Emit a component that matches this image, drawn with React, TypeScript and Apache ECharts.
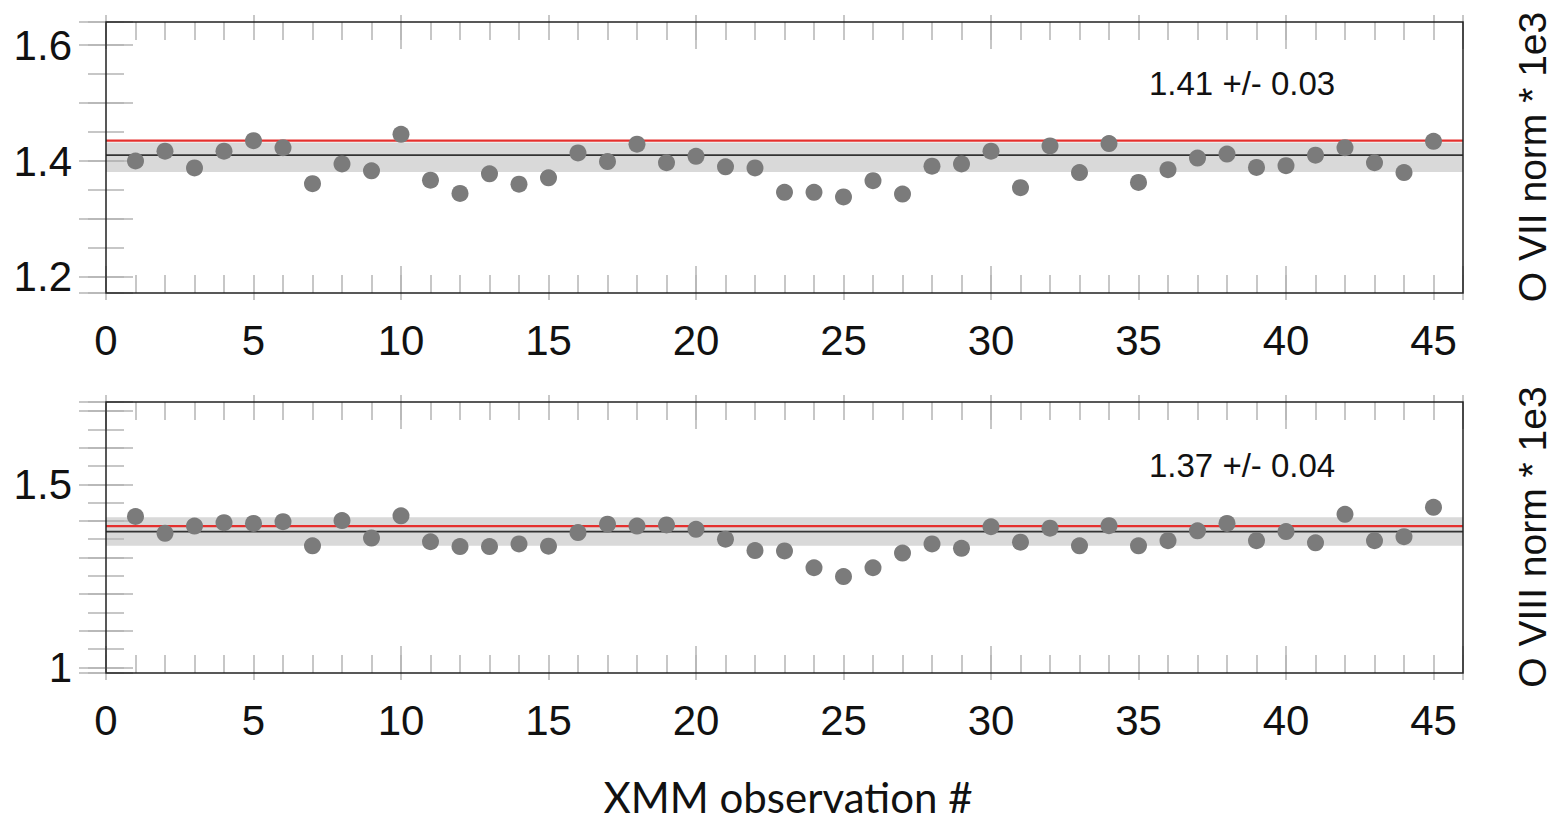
import React, { useEffect, useRef } from "react";
import * as echarts from "echarts";

// XMM observation numbers
const observations = [
  1, 2, 3, 4, 5, 6, 7, 8, 9, 10, 11, 12, 13, 14, 15, 16, 17, 18, 19, 20, 21, 22, 23,
  24, 25, 26, 27, 28, 29, 30, 31, 32, 33, 34, 35, 36, 37, 38, 39, 40, 41, 42, 43, 44, 45,
];

// O VII norm * 1e3
const oviiValues = [
  1.400, 1.417, 1.388, 1.417, 1.435, 1.423, 1.361, 1.395, 1.383, 1.446,
  1.367, 1.344, 1.378, 1.360, 1.371, 1.414, 1.399, 1.429, 1.397, 1.408,
  1.390, 1.388, 1.346, 1.346, 1.338, 1.366, 1.343, 1.391, 1.395, 1.417,
  1.354, 1.426, 1.380, 1.430, 1.363, 1.385, 1.405, 1.412, 1.389, 1.392,
  1.410, 1.423, 1.397, 1.380, 1.434,
];

// O VIII norm * 1e3
const oviiiValues = [
  1.412, 1.366, 1.386, 1.395, 1.393, 1.398, 1.332, 1.401, 1.353, 1.414,
  1.343, 1.330, 1.330, 1.337, 1.331, 1.368, 1.391, 1.386, 1.389, 1.377,
  1.350, 1.319, 1.318, 1.272, 1.248, 1.272, 1.312, 1.337, 1.325, 1.384,
  1.342, 1.380, 1.332, 1.387, 1.332, 1.346, 1.373, 1.393, 1.346, 1.371,
  1.340, 1.418, 1.346, 1.357, 1.437,
];

const oviiMean = 1.41;
const oviiBand = [1.381, 1.432];
const oviiRef = 1.435;
const oviiText = "1.41 +/- 0.03";

const oviiiMean = 1.3705;
const oviiiBand = [1.332, 1.41];
const oviiiRef = 1.386;
const oviiiText = "1.37 +/- 0.04";

const xRange = [0, 46];
const oviiRange = [1.1724, 1.6397];
const oviiiRange = [0.9844, 1.7249];

const FONT = "'Liberation Sans', Arial, Helvetica, sans-serif";
const TICK = "#b4b4b4";

const isMult = (v: number, s: number) => Math.abs(v / s - Math.round(v / s)) < 1e-6;

function xAxes(gridIndex: number) {
  const common = {
    type: "value",
    gridIndex,
    min: xRange[0],
    max: xRange[1],
    axisLine: { show: false },
    splitLine: { show: false },
    z: 3,
  };
  const list: any[] = [];
  for (const pos of ["bottom", "top"]) {
    list.push({
      ...common,
      position: pos,
      interval: 5,
      axisTick: { inside: false, length: 7, lineStyle: { color: TICK, width: 1.5 } },
      axisLabel:
        pos === "bottom"
          ? {
              show: true,
              margin: 26,
              fontSize: 42,
              fontFamily: FONT,
              color: "#111",
              formatter: (v: number) => (isMult(v, 5) && v <= 45 ? String(v) : ""),
            }
          : { show: false },
    });
    list.push({
      ...common,
      position: pos,
      interval: 1,
      axisTick: { inside: true, length: 18, lineStyle: { color: TICK, width: 1.5 } },
      axisLabel: { show: false },
    });
    list.push({
      ...common,
      position: pos,
      interval: 10,
      axisTick: { inside: true, length: 27, lineStyle: { color: TICK, width: 1.5 } },
      axisLabel: { show: false },
    });
  }
  return list;
}

function yAxes(gridIndex: number, range: number[], labelStep: number) {
  const common = {
    type: "value",
    gridIndex,
    min: range[0],
    max: range[1],
    axisLine: { show: false },
    splitLine: { show: false },
    z: 3,
  };
  const list: any[] = [];
  for (const pos of ["left", "right"]) {
    list.push({
      ...common,
      position: pos,
      splitNumber: 5,
      minInterval: 0.1,
      maxInterval: 0.1,
      axisTick: { inside: true, length: 27, lineStyle: { color: TICK, width: 1.5 } },
      axisLabel:
        pos === "left"
          ? {
              show: true,
              margin: 34,
              fontSize: 42,
              fontFamily: FONT,
              color: "#111",
              formatter: (v: number) =>
                isMult(v, labelStep) ? String(parseFloat(v.toFixed(2))) : "",
            }
          : { show: false },
    });
    list.push({
      ...common,
      position: pos,
      splitNumber: 10,
      minInterval: 0.05,
      maxInterval: 0.05,
      axisTick: { inside: true, length: 18, lineStyle: { color: TICK, width: 1.5 } },
      axisLabel: { show: false },
    });
  }
  return list;
}

function panelSeries(
  gridIndex: number,
  values: number[],
  mean: number,
  band: number[],
  ref: number
) {
  const xAxisIndex = gridIndex * 6;
  const yAxisIndex = gridIndex * 4;
  return [
    {
      type: "line",
      xAxisIndex,
      yAxisIndex,
      data: [
        [xRange[0], mean],
        [xRange[1], mean],
      ],
      symbol: "none",
      silent: true,
      z: 2,
      lineStyle: { color: "#333", width: 1.8 },
      markArea: {
        silent: true,
        itemStyle: { color: "#d9d9d9", opacity: 1 },
        data: [[{ yAxis: band[0] }, { yAxis: band[1] }]],
        z: 1,
      },
    },
    {
      type: "line",
      xAxisIndex,
      yAxisIndex,
      data: [
        [xRange[0], ref],
        [xRange[1], ref],
      ],
      symbol: "none",
      silent: true,
      z: 2,
      lineStyle: { color: "#e5302e", width: 2.2 },
    },
    {
      type: "scatter",
      xAxisIndex,
      yAxisIndex,
      data: observations.map((o, i) => [o, values[i]]),
      symbol: "circle",
      symbolSize: 17,
      itemStyle: { color: "#7b7b7b", opacity: 1 },
      z: 5,
    },
  ];
}

export default function App() {
  const ref = useRef<HTMLDivElement>(null);
  useEffect(() => {
    if (!ref.current) return;
    const chart = echarts.init(ref.current, undefined, { renderer: "svg" });
    const grid = (top: number) => ({
      left: 106,
      top,
      width: 1357,
      height: 271,
      show: true,
      backgroundColor: "transparent",
      borderColor: "#222",
      borderWidth: 1.5,
      z: 4,
    });
    chart.setOption({
      animation: false,
      backgroundColor: "#ffffff",
      grid: [grid(22), grid(402)],
      xAxis: [...xAxes(0), ...xAxes(1)],
      yAxis: [...yAxes(0, oviiRange, 0.2), ...yAxes(1, oviiiRange, 0.5)],
      series: [
        ...panelSeries(0, oviiValues, oviiMean, oviiBand, oviiRef),
        ...panelSeries(1, oviiiValues, oviiiMean, oviiiBand, oviiiRef),
      ],
      graphic: [
        {
          type: "text",
          x: 1149,
          y: 83,
          style: {
            text: oviiText,
            font: `33px ${FONT}`,
            fill: "#111",
            textVerticalAlign: "middle",
          },
        },
        {
          type: "text",
          x: 1149,
          y: 465,
          style: {
            text: oviiiText,
            font: `33px ${FONT}`,
            fill: "#111",
            textVerticalAlign: "middle",
          },
        },
        {
          type: "text",
          x: 1532,
          y: 157,
          rotation: Math.PI / 2,
          style: {
            text: "O VII norm * 1e3",
            font: `39px ${FONT}`,
            fill: "#111",
            textAlign: "center",
            textVerticalAlign: "middle",
          },
        },
        {
          type: "text",
          x: 1532,
          y: 537,
          rotation: Math.PI / 2,
          style: {
            text: "O VIII norm * 1e3",
            font: `39px ${FONT}`,
            fill: "#111",
            textAlign: "center",
            textVerticalAlign: "middle",
          },
        },
        {
          type: "text",
          x: 788,
          y: 797,
          style: {
            text: "XMM observation #",
            font: `42px Lato, 'Open Sans', sans-serif`,
            fill: "#111",
            textAlign: "center",
            textVerticalAlign: "middle",
          },
        },
      ],
    });
    return () => chart.dispose();
  }, []);
  return (
    <div
      ref={ref}
      style={{ position: "absolute", left: 0, top: 0, width: 1557, height: 821 }}
    />
  );
}
